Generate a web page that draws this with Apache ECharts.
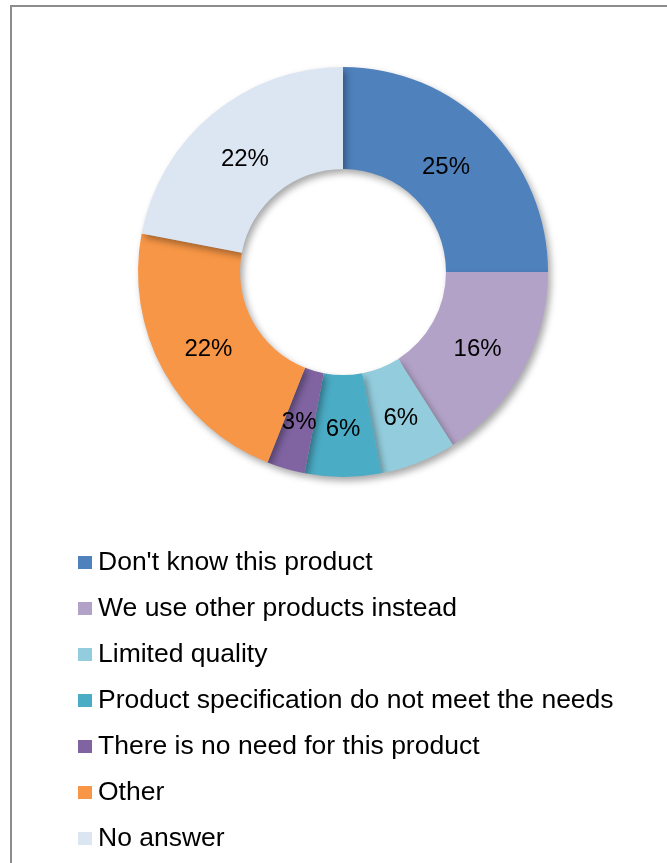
<!DOCTYPE html>
<html>
<head>
<meta charset="utf-8">
<script src="https://cdn.jsdelivr.net/npm/echarts@6/dist/echarts.min.js"></script>
<style>
  html, body { margin: 0; padding: 0; background: #fff; }
  #frame { position: absolute; left: 10px; top: 5px; width: 670px; height: 870px;
           border-left: 2px solid #8c8c8c; border-top: 2px solid #8c8c8c; box-sizing: border-box; }
  #chart { position: absolute; left: 0; top: 0; width: 667px; height: 863px; }
</style>
</head>
<body>
<div id="frame"></div>
<div id="chart"></div>
<script>
// Reasons for not using the product (share of respondents, %)
const categories = [
  "Don't know this product",
  "We use other products instead",
  "Limited quality",
  "Product specification do not meet the needs",
  "There is no need for this product",
  "Other",
  "No answer"
];
const shares = [25, 16, 6, 6, 3, 22, 22];
const colors = ["#4F81BD", "#B2A2C7", "#93CDDD", "#4BACC6", "#8064A2", "#F79646", "#DCE6F2"];
// small nudges so the upper labels sit a little closer to the ring's middle
const labelNudge = [[-8, 6], [-3, 2], [0, 0], [0, 0], [0, 0], [3, 2], [2, 8]];

const chart = echarts.init(document.getElementById('chart'));
chart.setOption({
  animation: false,
  color: colors,
  legend: {
    orient: 'vertical',
    left: 78,
    top: 549,
    height: 314,
    padding: 0,
    itemWidth: 14,
    itemHeight: 13,
    itemGap: 19.0,
    icon: 'rect',
    selectedMode: false,
    data: categories,
    textStyle: { fontFamily: 'Liberation Sans, Arial, sans-serif', fontSize: 26.5, color: '#000', padding: [0, 0, 0, 1] }
  },
  series: [{
    type: 'pie',
    center: [343, 272],
    radius: [103, 205],
    startAngle: 90,
    clockwise: true,
    itemStyle: {
      shadowBlur: 7,
      shadowOffsetX: 3,
      shadowOffsetY: 4,
      shadowColor: 'rgba(0,0,0,0.35)'
    },
    label: {
      show: true,
      position: 'inside',
      formatter: '{c}%',
      fontFamily: 'Liberation Sans, Arial, sans-serif',
      fontSize: 24,
      color: '#000'
    },
    labelLine: { show: false },
    emphasis: { disabled: true },
    data: categories.map((name, i) => ({
      name: name,
      value: shares[i],
      label: { offset: labelNudge[i] }
    }))
  }]
});
</script>
</body>
</html>
